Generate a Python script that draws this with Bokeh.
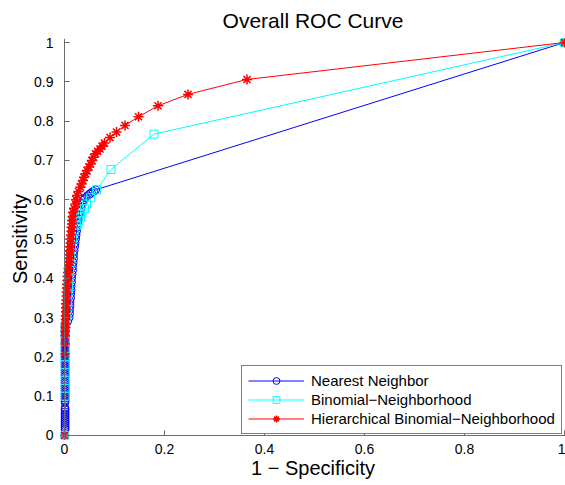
from bokeh.plotting import figure
from bokeh.models import FixedTicker, Range1d, Span
from bokeh.embed import file_html
from bokeh.resources import INLINE

# Nearest Neighbor (blue, circles)
nn_fpr = [0.0,
          0.001, 0.001, 0.001, 0.001, 0.001, 0.001, 0.001, 0.001, 0.001, 0.001,
          0.001, 0.001, 0.001, 0.001, 0.001, 0.001, 0.001, 0.001, 0.001, 0.001,
          0.001, 0.001, 0.001, 0.001, 0.001, 0.001, 0.001, 0.001, 0.001, 0.001,
          0.001, 0.001, 0.001, 0.001, 0.001, 0.001, 0.001, 0.001, 0.001, 0.001,
          0.001, 0.001, 0.001, 0.001, 0.001, 0.001, 0.001, 0.001, 0.001, 0.001,
          0.001,
          0.006, 0.009, 0.010, 0.010, 0.011, 0.011, 0.012, 0.012, 0.013, 0.013,
          0.014, 0.014, 0.015, 0.016, 0.016, 0.017, 0.018, 0.018, 0.019, 0.020,
          0.021, 0.022, 0.023, 0.024, 0.025, 0.026, 0.027, 0.029, 0.031, 0.033,
          0.036, 0.039, 0.042, 0.046, 0.050, 0.054, 0.058, 0.062,
          1.0]
nn_tpr = [0.0,
          0.015, 0.02, 0.025, 0.03, 0.035, 0.04, 0.045, 0.05, 0.055, 0.06,
          0.065, 0.07, 0.085, 0.09, 0.095, 0.10, 0.105, 0.11, 0.115, 0.12,
          0.125, 0.13, 0.135, 0.14, 0.15, 0.155, 0.16, 0.165, 0.17, 0.175,
          0.18, 0.185, 0.19, 0.195, 0.20, 0.205, 0.21, 0.215, 0.22, 0.225,
          0.23, 0.235, 0.24, 0.245, 0.25, 0.255, 0.26, 0.265, 0.27, 0.275,
          0.28,
          0.29, 0.30, 0.31, 0.32, 0.33, 0.34, 0.35, 0.36, 0.37, 0.38,
          0.39, 0.40, 0.41, 0.42, 0.43, 0.44, 0.45, 0.46, 0.47, 0.48,
          0.49, 0.50, 0.51, 0.52, 0.53, 0.54, 0.55, 0.56, 0.57, 0.58,
          0.59, 0.60, 0.605, 0.61, 0.614, 0.618, 0.621, 0.625,
          1.0]

# Binomial-Neighborhood (cyan, squares)
bn_fpr = [0.0, 0.001, 0.001, 0.001, 0.001, 0.001, 0.001, 0.001, 0.001, 0.001, 0.001,
          0.004, 0.005, 0.006, 0.007, 0.008, 0.009, 0.010, 0.011, 0.012, 0.014,
          0.016, 0.019, 0.024, 0.029, 0.032, 0.035, 0.040, 0.044, 0.052, 0.064,
          0.093, 0.179, 1.0]
bn_tpr = [0.0, 0.10, 0.12, 0.14, 0.16, 0.18, 0.20, 0.22, 0.24, 0.26, 0.28,
          0.30, 0.32, 0.34, 0.36, 0.38, 0.40, 0.42, 0.44, 0.46, 0.48,
          0.50, 0.52, 0.535, 0.547, 0.556, 0.564, 0.577, 0.589, 0.605, 0.625,
          0.677, 0.767, 1.0]

# Hierarchical Binomial-Neighborhood (red, stars)
hbn_fpr = [0.0, 0.0, 0.001, 0.001, 0.001, 0.002, 0.002, 0.002, 0.002, 0.003,
           0.003, 0.003, 0.004, 0.004, 0.004, 0.005, 0.005, 0.006, 0.006, 0.007,
           0.008, 0.009, 0.009, 0.010, 0.010, 0.011, 0.011, 0.012, 0.012, 0.013,
           0.014, 0.014, 0.015, 0.015, 0.016, 0.017, 0.019, 0.022, 0.023, 0.025,
           0.028, 0.032, 0.034, 0.037, 0.039, 0.042, 0.045, 0.049, 0.052, 0.055,
           0.058, 0.062, 0.066, 0.071, 0.075, 0.080, 0.091, 0.104, 0.121, 0.148,
           0.187, 0.247, 0.365, 1.0]
hbn_tpr = [0.0, 0.208, 0.233, 0.254, 0.265, 0.275, 0.285, 0.295, 0.305, 0.315,
           0.325, 0.335, 0.345, 0.355, 0.365, 0.375, 0.385, 0.395, 0.405, 0.415,
           0.425, 0.433, 0.442, 0.451, 0.46, 0.47, 0.48, 0.49, 0.50, 0.51,
           0.52, 0.53, 0.538, 0.547, 0.557, 0.568, 0.578, 0.589, 0.60, 0.611,
           0.621, 0.632, 0.64, 0.649, 0.657, 0.666, 0.674, 0.683, 0.691, 0.700,
           0.708, 0.717, 0.723, 0.729, 0.736, 0.744, 0.758, 0.772, 0.789, 0.811,
           0.839, 0.868, 0.906, 1.0]

x_ticks = [0, 0.2, 0.4, 0.6, 0.8, 1]
x_tick_labels = ["0", "0.2", "0.4", "0.6", "0.8", "1"]
y_ticks = [0, 0.1, 0.2, 0.3, 0.4, 0.5, 0.6, 0.7, 0.8, 0.9, 1]
y_tick_labels = ["0", "0.1", "0.2", "0.3", "0.4", "0.5", "0.6", "0.7", "0.8", "0.9", "1"]

FONT = "Liberation Sans"
AXIS_GREY = "#6b6b6b"

p = figure(width=565, height=485,
           x_range=Range1d(-0.008, 1.002), y_range=Range1d(-0.0102, 1.0102),
           output_backend="svg", toolbar_location=None, title="Overall ROC Curve",
           min_border_left=60, min_border_right=0, min_border_top=38, min_border_bottom=46)

p.title.text_font = FONT
p.title.text_font_size = "21px"
p.title.text_font_style = "normal"
p.title.align = "center"
p.title.text_color = "black"
p.title.standoff = 13

p.grid.visible = False
p.outline_line_color = None
p.background_fill_color = "white"
p.border_fill_color = "white"

for ax, ticks, labels in ((p.xaxis[0], x_ticks, x_tick_labels), (p.yaxis[0], y_ticks, y_tick_labels)):
    ax.ticker = FixedTicker(ticks=ticks)
    ax.major_label_overrides = {t: l for t, l in zip(ticks, labels)}
    ax.axis_line_color = None
    ax.major_tick_line_color = AXIS_GREY
    ax.major_tick_in = 9
    ax.major_tick_out = -4
    ax.minor_tick_line_color = None
    ax.major_label_text_font = FONT
    ax.major_label_text_font_size = "14px"
    ax.major_label_text_color = "black"
    ax.axis_label_text_font = FONT
    ax.axis_label_text_font_size = "20px"
    ax.axis_label_text_font_style = "normal"
    ax.axis_label_text_color = "black"

p.xaxis.axis_label = "1 \u2212 Specificity"
p.yaxis.axis_label = "Sensitivity"
p.xaxis.major_label_standoff = 4
p.yaxis.major_label_standoff = 7
p.xaxis.axis_label_standoff = 0
p.yaxis.axis_label_standoff = 0

# axis lines through the origin
p.add_layout(Span(location=0, dimension="height", line_color=AXIS_GREY, line_width=1))
p.add_layout(Span(location=0, dimension="width", line_color=AXIS_GREY, line_width=1))

lab_nn = "Nearest Neighbor"
lab_bn = "Binomial\u2212Neighborhood"
lab_hbn = "Hierarchical Binomial\u2212Neighborhood"

p.line(nn_fpr, nn_tpr, line_color="#0000ff", line_width=1, legend_label=lab_nn)
p.scatter(nn_fpr, nn_tpr, marker="circle", size=8, fill_color=None,
          line_color="#0000ff", line_width=1, legend_label=lab_nn)

p.line(bn_fpr, bn_tpr, line_color="#00ffff", line_width=1, legend_label=lab_bn)
p.scatter(bn_fpr, bn_tpr, marker="square", size=8, fill_color=None,
          line_color="#00ffff", line_width=1, legend_label=lab_bn)

p.line(hbn_fpr, hbn_tpr, line_color="#ff0000", line_width=1, legend_label=lab_hbn)
p.scatter(hbn_fpr, hbn_tpr, marker="asterisk", size=10, fill_color=None,
          line_color="#ff0000", line_width=1.5, legend_label=lab_hbn)

lg = p.legend[0]
lg.location = (181, 5)
lg.border_line_color = "black"
lg.border_line_width = 1
lg.background_fill_color = "white"
lg.background_fill_alpha = 1
lg.label_text_font = FONT
lg.label_text_font_size = "15px"
lg.label_text_color = "black"
lg.glyph_width = 56
lg.glyph_height = 17
lg.label_height = 17
lg.label_standoff = 7
lg.spacing = 2
lg.padding = 6
lg.margin = 0

open("out.html", "w").write(file_html(p, INLINE))
